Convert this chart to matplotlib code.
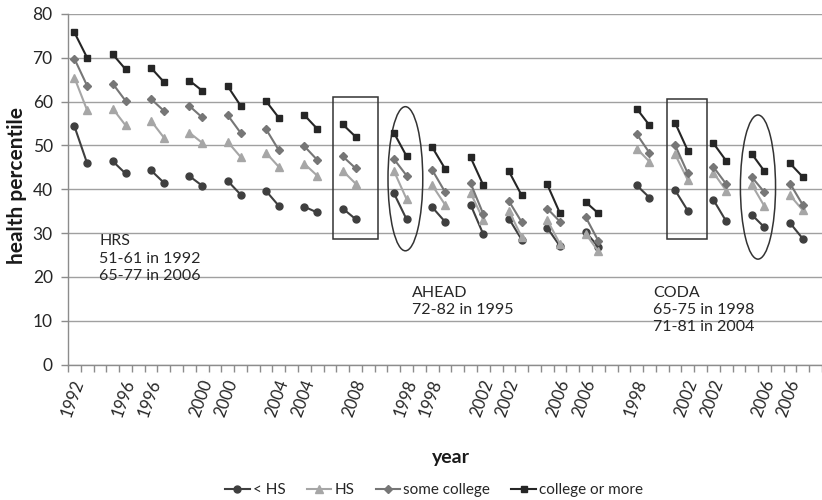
import numpy as np
import matplotlib.pyplot as plt
import matplotlib.transforms as mtransforms
from matplotlib.patches import Rectangle, Ellipse

plt.rcParams['font.family'] = ['Lato', 'DejaVu Sans']

# survey waves; each pair of consecutive waves is drawn as one short segment
hrs_waves = [1992, 1994, 1996, 1998, 2000, 2002, 2004, 2006, 2008]
ahead_waves = [1995, 1998, 2000, 2002, 2004, 2006, 2008]
coda_waves = [1998, 2000, 2002, 2004, 2006, 2008]

groups = ['< HS', 'HS', 'some college', 'college or more']

# (start, end) health percentile per wave pair
hrs_lths = [(54.4, 45.9), (46.4, 43.6), (44.3, 41.5), (43.0, 40.8),
            (41.9, 38.8), (39.6, 36.2), (36.0, 34.7), (35.6, 33.2)]
hrs_hs = [(65.5, 58.0), (58.4, 54.6), (55.6, 51.8), (52.9, 50.6),
          (50.8, 47.4), (48.3, 45.1), (45.8, 43.1), (44.2, 41.3)]
hrs_some = [(69.8, 63.6), (64.1, 60.2), (60.6, 57.9), (59.0, 56.4),
            (56.9, 52.9), (53.7, 48.9), (49.8, 46.7), (47.5, 44.8)]
hrs_coll = [(75.8, 70.0), (70.8, 67.4), (67.7, 64.5), (64.8, 62.5),
            (63.5, 59.1), (60.1, 56.3), (56.9, 53.8), (54.8, 52.0)]

ahead_lths = [(39.1, 33.1), (35.9, 32.6), (36.5, 29.7), (33.3, 28.5),
              (31.2, 27.0), (30.3, 26.8)]
ahead_hs = [(44.2, 37.7), (40.9, 36.5), (39.2, 33.0), (35.1, 29.1),
            (33.0, 27.5), (29.9, 25.8)]
ahead_some = [(46.9, 43.1), (44.4, 39.4), (41.4, 34.3), (37.3, 32.5),
              (35.6, 32.6), (33.7, 28.2)]
ahead_coll = [(52.9, 47.5), (49.6, 44.7), (47.3, 40.9), (44.1, 38.6),
              (41.1, 34.5), (37.1, 34.5)]

coda_lths = [(40.9, 38.1), (39.8, 35.1), (37.6, 32.7), (34.2, 31.3), (32.3, 28.7)]
coda_hs = [(49.3, 46.3), (48.0, 42.1), (43.8, 39.7), (41.1, 36.1), (38.6, 35.2)]
coda_some = [(52.6, 48.3), (50.1, 43.6), (45.1, 41.2), (42.8, 39.3), (41.3, 36.4)]
coda_coll = [(58.4, 54.6), (55.2, 48.8), (50.5, 46.5), (48.1, 44.1), (45.9, 42.8)]

colors = ['#3f3f3f', '#a6a6a6', '#767676', '#262626']
markers = ['o', '^', 'D', 's']
msizes = [5, 5.5, 4, 5]

studies = [
    (hrs_waves, [hrs_lths, hrs_hs, hrs_some, hrs_coll]),
    (ahead_waves, [ahead_lths, ahead_hs, ahead_some, ahead_coll]),
    (coda_waves, [coda_lths, coda_hs, coda_some, coda_coll]),
]

# lay the wave pairs out as categories, blank category after each pair
labels = []
series = [[] for _ in groups]
for waves, vals in studies:
    for i in range(len(waves) - 1):
        labels += [str(waves[i]), str(waves[i + 1]), '']
        for s, pairs in zip(series, vals):
            s += [pairs[i][0], pairs[i][1], np.nan]
    labels.append('')
    for s in series:
        s.append(np.nan)

x = np.arange(len(labels))

fig = plt.figure(figsize=(8.22, 5.0), dpi=100)
ax = fig.add_axes([68 / 822, 1 - 364.5 / 500, 1 - 68 / 822, 350.5 / 500])

for s, name, c, m, ms in zip(series, groups, colors, markers, msizes):
    ax.plot(x, s, color=c, marker=m, markersize=ms, linewidth=1.5,
            label=name)

ax.set_xlim(-0.5, 57.06)
ax.set_ylim(0, 80)
ax.set_yticks(np.arange(0, 81, 10))
ax.yaxis.grid(True, color='#a0a0a0', linewidth=1.0)
ax.set_axisbelow(True)

ax.set_xticks(x[::2])
ax.set_xticklabels(labels[::2], rotation=70, ha='right', va='center',
                   rotation_mode='anchor')
ax.set_xticks(x - 0.5, minor=True)
ax.tick_params(axis='x', which='major', length=0, pad=11, labelsize=12,
               labelcolor='#262626')
ax.tick_params(axis='x', which='minor', length=5, color='#8c8c8c', width=1)
ax.tick_params(axis='y', length=5, color='#8c8c8c', width=1, labelsize=12.5,
               labelcolor='#262626', pad=6)
shift = mtransforms.ScaledTranslation(5 / 100, 0, fig.dpi_scale_trans)
for lab in ax.get_xticklabels():
    lab.set_transform(lab.get_transform() + shift)

for side in ['top', 'right']:
    ax.spines[side].set_visible(False)
for side in ['left', 'bottom']:
    ax.spines[side].set_color('#8c8c8c')
    ax.spines[side].set_linewidth(1.0)

fig.text(17 / 822, 1 - 186 / 500, 'health percentile', rotation=90,
         ha='center', va='center', fontsize=15, fontweight='bold',
         color='#1a1a1a')
fig.text(451 / 822, 1 - 457 / 500, 'year', ha='center', va='center',
         fontsize=14, fontweight='bold', color='#1a1a1a')

# highlighted segments
ax.add_patch(Rectangle((20.2, 28.6), 3.55, 32.5, fill=False,
                       edgecolor='#333333', linewidth=1.1))
ax.add_patch(Rectangle((46.34, 28.6), 3.13, 32.1, fill=False,
                       edgecolor='#333333', linewidth=1.1))
ax.add_patch(Ellipse((25.9, 42.4), 2.72, 32.9, fill=False,
                     edgecolor='#333333', linewidth=1.1))
ax.add_patch(Ellipse((53.49, 40.5), 2.75, 32.9, fill=False,
                     edgecolor='#333333', linewidth=1.1))

txt = dict(fontsize=11.5, color='#262626', va='top', ha='left', linespacing=1.3)
ax.text(1.94, 29.7, 'HRS\n51-61 in 1992\n65-77 in 2006', **txt)
ax.text(26.4, 18.0, 'AHEAD\n72-82 in 1995', **txt)
ax.text(45.3, 18.0, 'CODA\n65-75 in 1998\n71-81 in 2004', **txt)

fig.legend(loc='center', bbox_to_anchor=(434 / 822, 1 - 490 / 500), ncol=4,
           frameon=False, fontsize=11, handlelength=1.6, handletextpad=0.2,
           columnspacing=1.4, labelcolor='#262626')

fig.savefig('out.png', dpi=100)
